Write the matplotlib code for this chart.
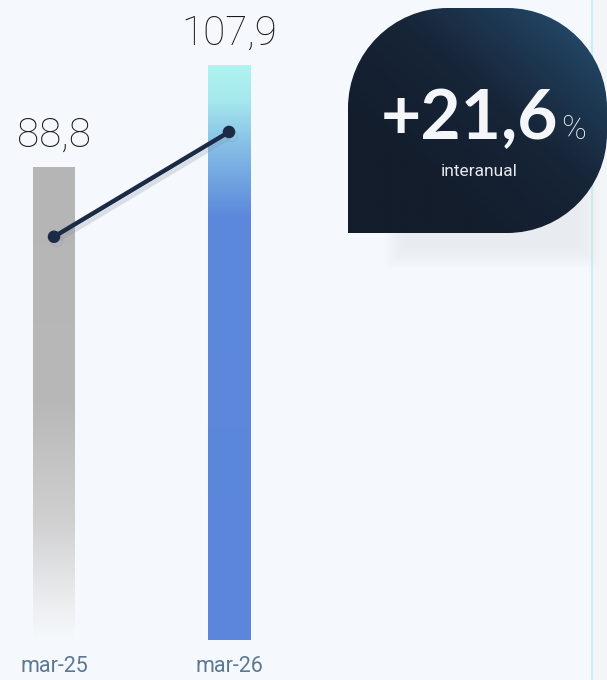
import numpy as np
import matplotlib
matplotlib.use("Agg")
import matplotlib.pyplot as plt
from matplotlib.path import Path
from matplotlib.patches import PathPatch, Rectangle
from matplotlib.colors import LinearSegmentedColormap
import matplotlib.patheffects as pe

# data
categories = ["mar-25", "mar-26"]
bar_values = [88.8, 107.9]
bar_labels = ["88,8", "107,9"]
line_values = [75.8, 95.5]
badge_value = "+21,6"
badge_unit = "%"
badge_caption = "interanual"

W, H = 607, 680
BG = "#F5F9FD"
FONT = "Roboto"

fig = plt.figure(figsize=(W / 100, H / 100), dpi=100, facecolor=BG)

# overlay in pixel coordinates (background bits, badge)
ov = fig.add_axes([0, 0, 1, 1], zorder=0)
ov.set_xlim(0, W)
ov.set_ylim(H, 0)
ov.axis("off")
ov.add_patch(Rectangle((592, 0), W - 592, H, color="#F4F5F8", zorder=0))
ov.plot([592, 592], [0, H], color="#C9F0F3", lw=1.5, zorder=1)

# =========================
# bars
# =========================
ax = fig.add_axes([0, 40 / H, 591 / W, 640 / H], zorder=2)
ax.set_xlim(-54 / 175, (591 - 54) / 175)
ax.set_ylim(0, 640 / 5.32)
ax.axis("off")
ax.patch.set_alpha(0)

bw = 42 / 175
bars = ax.bar(range(len(categories)), bar_values, width=bw, color="none")

gray_cmap = LinearSegmentedColormap.from_list(
    "g", [(0, BG), (0.06, "#EEF0F2"), (0.25, "#D0D0D1"), (0.5, "#B8B8B8"), (1, "#B5B5B5")])
blue_cmap = LinearSegmentedColormap.from_list(
    "b", [(0, "#5B86DB"), (0.74, "#5D89DC"), (0.86, "#84BEE6"),
          (0.94, "#A5E8EE"), (1, "#AEF4F0")])
for b, cm in zip(bars, [gray_cmap, blue_cmap]):
    x0, y0 = b.get_x(), b.get_y()
    grad = np.linspace(0, 1, 256).reshape(-1, 1)
    ax.imshow(grad, cmap=cm, origin="lower", aspect="auto",
              extent=[x0, x0 + b.get_width(), y0, y0 + b.get_height()], zorder=2)

for i, (v, lab) in enumerate(zip(bar_values, bar_labels)):
    ax.text(i, v + 4.0, lab, ha="center", va="baseline", fontsize=29,
            family=FONT, weight="light", color="#1A1A1A", zorder=5)

ax.plot(range(len(categories)), line_values, color="#1B2B45", lw=3.2,
        marker="o", ms=8, zorder=6,
        path_effects=[pe.SimpleLineShadow(offset=(2, -3), shadow_color="#8090A0", alpha=0.25),
                      pe.Normal()])

for i, c in enumerate(categories):
    ax.text(i, -4.9, c, ha="center", va="center", fontsize=15.5,
            family=FONT, color="#5E7890", clip_on=False)

ax.set_xlim(-54 / 175, (591 - 54) / 175)
ax.set_ylim(0, 640 / 5.32)

# =========================
# badge
# =========================
for k in range(8):
    d = k * 3
    ov.add_patch(Rectangle((385 + d, 150 + d), 215 - 2 * d, 118 - 2 * d,
                           color="#DDDFE4", alpha=0.07, lw=0, zorder=1))

x0, x1, y0, y1 = 348, 607, 8, 233
r = 100
kk = 0.5523 * r
verts = [
    (x0, y1),
    (x0, y0 + r),
    (x0, y0 + r - kk), (x0 + r - kk, y0), (x0 + r, y0),
    (x1 - r, y0),
    (x1 - r + kk, y0), (x1, y0 + r - kk), (x1, y0 + r),
    (x1, y1 - r),
    (x1, y1 - r + kk), (x1 - r + kk, y1), (x1 - r, y1),
    (x0, y1),
]
codes = [Path.MOVETO, Path.LINETO,
         Path.CURVE4, Path.CURVE4, Path.CURVE4,
         Path.LINETO,
         Path.CURVE4, Path.CURVE4, Path.CURVE4,
         Path.LINETO,
         Path.CURVE4, Path.CURVE4, Path.CURVE4,
         Path.CLOSEPOLY]
badge = PathPatch(Path(verts, codes), facecolor="none", edgecolor="none", zorder=3)
ov.add_patch(badge)

xx, yy = np.meshgrid(np.linspace(0, 1, 200), np.linspace(0, 1, 200))
t = np.clip(xx * 0.65 + (1 - yy) * 0.65 - 0.35, 0, 1)
badge_cmap = LinearSegmentedColormap.from_list(
    "d", [(0, "#131D2C"), (0.4, "#172538"), (0.7, "#1F3C58"), (1, "#2A5A7D")])
im = ov.imshow(t, cmap=badge_cmap, origin="upper", aspect="auto",
               extent=[x0, x1, y1, y0], zorder=3, vmin=0, vmax=1)
im.set_clip_path(badge)
ov.set_xlim(0, W)
ov.set_ylim(H, 0)

ov.text(558, 139, badge_value, ha="right", va="baseline", fontsize=50,
        family="Lato", weight="bold", color="#F4F6FA", zorder=4)
ov.text(561, 139, badge_unit, ha="left", va="baseline", fontsize=24,
        family=FONT, weight="light", color="#F4F6FA", zorder=4)
ov.text(479, 171, badge_caption, ha="center", va="center", fontsize=12.5,
        family=FONT, color="#E6EAF0", zorder=4)

fig.savefig("out.png", dpi=100, facecolor=BG)
